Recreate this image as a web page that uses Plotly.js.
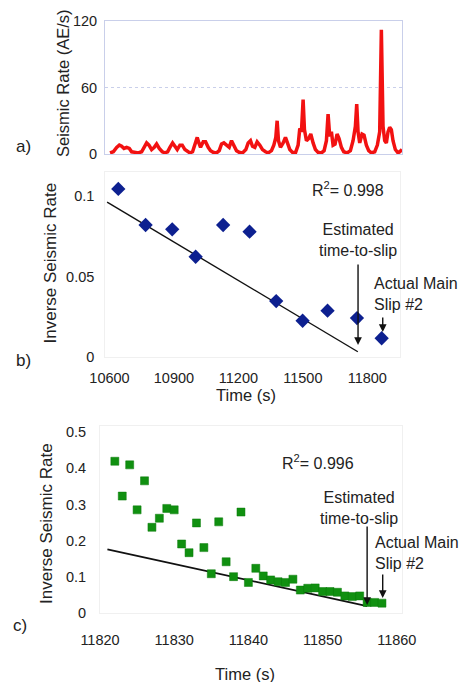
<!DOCTYPE html>
<html><head><meta charset="utf-8">
<script src="https://cdn.plot.ly/plotly-3.0.1.min.js"></script>
<style>html,body{margin:0;padding:0;background:#fff}#chart{width:466px;height:682px}</style>
</head><body><div id="chart"></div>
<script>
// Panel a: seismic rate time series (arbitrary time units across the panel)
const rateTime = [15,25,35,43,50,57,65,73,80,90,100,110,117,125,132,140,148,155,163,172,180,188,195,203,210,217,225,232,240,248,255,263,270,277,282,287,295,302,310,317,325,335,343,350,357,365,373,380,387,395,403,413,423,430,437,443,450,457,465,473,482,490,500,507,513,517,521,527,535,542,548,555,563,572,580,585,590,595,599,605,612,618,625,632,640,650,658,665,670,675,680,685,691,697,703,710,717,727,737,745,752,756,760,765,772,778,785,792,800,810,818,825,830,835,840,845,850,855,860,865,872,880,885,892];
const rateValue = [1,2,6,8,7,5,6,5,2,1.5,1,2,6,10,8,4,6,9,5,2,1,2,6,10,7,4,8,8,4,2,1,2,8,15,10,6,11,11,6,3,1.5,1,3,9,10,8,6,12,8,3,1.5,1,4,10,12,7,6,11,8,4,2,1,3,8,15,30,12,6,10,15,10,4,1.5,1,8,23,20,49,22,12,14,18,10,4,1.5,1,3,12,36,16,20,8,9,18,14,6,2,1,3,12,25,45,20,10,18,17,8,3,1,2,8,20,112,25,12,10,20,24,22,12,4,1,2,4];
const aYTicks = [0,60,120];
const aYText  = ['0','60','120'];

// Panel b: inverse seismic rate vs time
const bTime = [10641,10768,10892,11001,11129,11252,11376,11499,11615,11752,11867];
const bInv  = [0.1046,0.0821,0.0794,0.0623,0.0821,0.0779,0.0347,0.0224,0.0287,0.0241,0.0115];
const bFitTime = [10589,11756];
const bFitInv  = [0.0963,0.0031];
const bXTicks = [10600,10900,11200,11500,11800];
const bXText  = ['10600','10900','11200','11500','11800'];
const bYTicks = [0,0.05,0.1];
const bYText  = ['0','0.05','0.1'];

// Panel c
const cTime = [11822,11823,11824,11825,11826,11827,11828,11829,11830,11831,11832,11833,11834,11835,11836,11837,11838,11839,11840,11841,11842,11843,11844,11845,11846,11847,11848,11849,11850,11851,11852,11853,11854,11855,11856,11857,11858];
const cInv  = [0.419,0.323,0.409,0.285,0.365,0.237,0.262,0.289,0.285,0.191,0.167,0.249,0.181,0.109,0.252,0.142,0.101,0.279,0.085,0.124,0.103,0.092,0.087,0.085,0.094,0.064,0.069,0.070,0.060,0.060,0.058,0.048,0.046,0.048,0.030,0.030,0.028];
const cFitTime = [11821,11856];
const cFitInv  = [0.176,0.020];
const cXTicks = [11820,11830,11840,11850,11860];
const cXText  = ['11820','11830','11840','11850','11860'];
const cYTicks = [0,0.1,0.2,0.3,0.4,0.5];
const cYText  = ['0','0.1','0.2','0.3','0.4','0.5'];

const W = 466, H = 682;
const P = px => px / W, Q = py => 1 - py / H;
const FONT = '"Liberation Sans", Arial, sans-serif';
const TXT = '#222';

const traces = [
  {x: rateTime, y: rateValue, xaxis:'x', yaxis:'y', mode:'lines', line:{color:'#f21111', width:3.5}, hoverinfo:'skip'},
  {x: bFitTime, y: bFitInv, xaxis:'x2', yaxis:'y2', mode:'lines', line:{color:'#111', width:1.4}},
  {x: bTime, y: bInv, xaxis:'x2', yaxis:'y2', mode:'markers', marker:{symbol:'diamond', size:11, color:'#0d2090'}},
  {x: cFitTime, y: cFitInv, xaxis:'x3', yaxis:'y3', mode:'lines', line:{color:'#111', width:1.8}},
  {x: cTime, y: cInv, xaxis:'x3', yaxis:'y3', mode:'markers', marker:{symbol:'square', size:8, color:'#109010', line:{color:'#0a7a0a', width:0.5}}}
];

const tickFont = {family: FONT, size: 14.5, color: TXT};
const faint = '#f0f0f0';

const layout = {
  width: W, height: H,
  margin: {l:0, r:0, t:0, b:0},
  paper_bgcolor: '#fff', plot_bgcolor: '#fff',
  showlegend: false,
  font: {family: FONT, color: TXT},
  xaxis: {domain:[P(105), P(402)], range:[0, 892], anchor:'y', showticklabels:false, showgrid:false, zeroline:false,
          showline:true, mirror:true, linecolor:'#c9cfea', linewidth:1, ticks:''},
  yaxis: {domain:[Q(154), Q(21)], range:[0,120], anchor:'x', tickvals:aYTicks, ticktext:aYText, tickfont:tickFont, ticks:'',
          showgrid:true, gridcolor:'#c9cfea', griddash:'dot', zeroline:false, showline:true, mirror:true,
          linecolor:'#c9cfea', ticklabelstandoff:4},
  xaxis2: {domain:[P(105.2), P(399.5)], range:[10580,11950], anchor:'y2', tickvals:bXTicks, ticktext:bXText, tickfont:tickFont, ticks:'',
           showgrid:false, zeroline:false, showline:true, mirror:true, linecolor:faint, ticklabelstandoff:8},
  yaxis2: {domain:[Q(356.7), Q(172.2)], range:[0,0.115], anchor:'x2', tickvals:bYTicks, ticktext:bYText, tickfont:tickFont,
           ticks:'', showgrid:false, zeroline:false, showline:true, mirror:true, linecolor:faint, ticklabelstandoff:7},
  xaxis3: {domain:[P(100), P(402)], range:[11820,11860.7], anchor:'y3', tickvals:cXTicks, ticktext:cXText, tickfont:tickFont, ticks:'',
           showgrid:false, zeroline:false, showline:true, mirror:true, linecolor:faint, ticklabelstandoff:13},
  yaxis3: {domain:[Q(613.3), Q(426.4)], range:[0,0.515], anchor:'x3', tickvals:cYTicks, ticktext:cYText, tickfont:tickFont,
           ticks:'', showgrid:false, zeroline:false, showline:true, mirror:true, linecolor:faint, ticklabelstandoff:10},
  annotations: []
};

function txt(text, px, py, opts) {
  layout.annotations.push(Object.assign({
    text: text, x: P(px), y: Q(py), xref:'paper', yref:'paper', showarrow:false,
    xanchor:'center', yanchor:'middle', font:{family:FONT, size:16, color:TXT}
  }, opts || {}));
}
function arrow(xr, yr, x, y, ay) {
  layout.annotations.push({x:x, y:y, xref:xr, yref:yr, ax:0, ay:ay, axref:'pixel', ayref:'pixel',
    showarrow:true, arrowhead:2, arrowsize:1.1, arrowwidth:1.4, arrowcolor:'#111', text:''});
}

// panel labels
txt('a)', 23, 146.7, {font:{family:FONT, size:17, color:TXT}});
txt('b)', 23, 360, {font:{family:FONT, size:17, color:TXT}});
txt('c)', 20, 625, {font:{family:FONT, size:17, color:TXT}});
// axis titles
txt('Seismic Rate (AE/s)', 63, 83, {textangle:-90, font:{family:FONT, size:16.5, color:TXT}});
txt('Inverse Seismic Rate', 50, 263.5, {textangle:-90, font:{family:FONT, size:17, color:TXT}});
txt('Time (s)', 245.7, 395, {font:{family:FONT, size:16.5, color:TXT}});
txt('Inverse Seismic Rate', 46.7, 523.3, {textangle:-90, font:{family:FONT, size:17, color:TXT}});
txt('Time (s)', 245, 674, {font:{family:FONT, size:16.5, color:TXT}});
// panel b notes
txt('R<sup>2</sup>= 0.998', 310, 189, {xanchor:'left'});
txt('Estimated<br>time-to-slip', 358, 240.4);
txt('Actual Main<br>Slip #2', 372, 294, {xanchor:'left', align:'left'});
arrow('x2','y2', 11757, 0.0073, -82);
arrow('x2','y2', 11872, 0.0154, -16);
// panel c notes
txt('R<sup>2</sup>= 0.996', 280, 462, {xanchor:'left'});
txt('Estimated<br>time-to-slip', 359, 507.8);
txt('Actual Main<br>Slip #2', 373, 552.8, {xanchor:'left', align:'left'});
arrow('x3','y3', 11856, 0.0229, -80);
arrow('x3','y3', 11858.1, 0.042, -25);

Plotly.newPlot('chart', traces, layout, {staticPlot:true, displayModeBar:false});
</script></body></html>
